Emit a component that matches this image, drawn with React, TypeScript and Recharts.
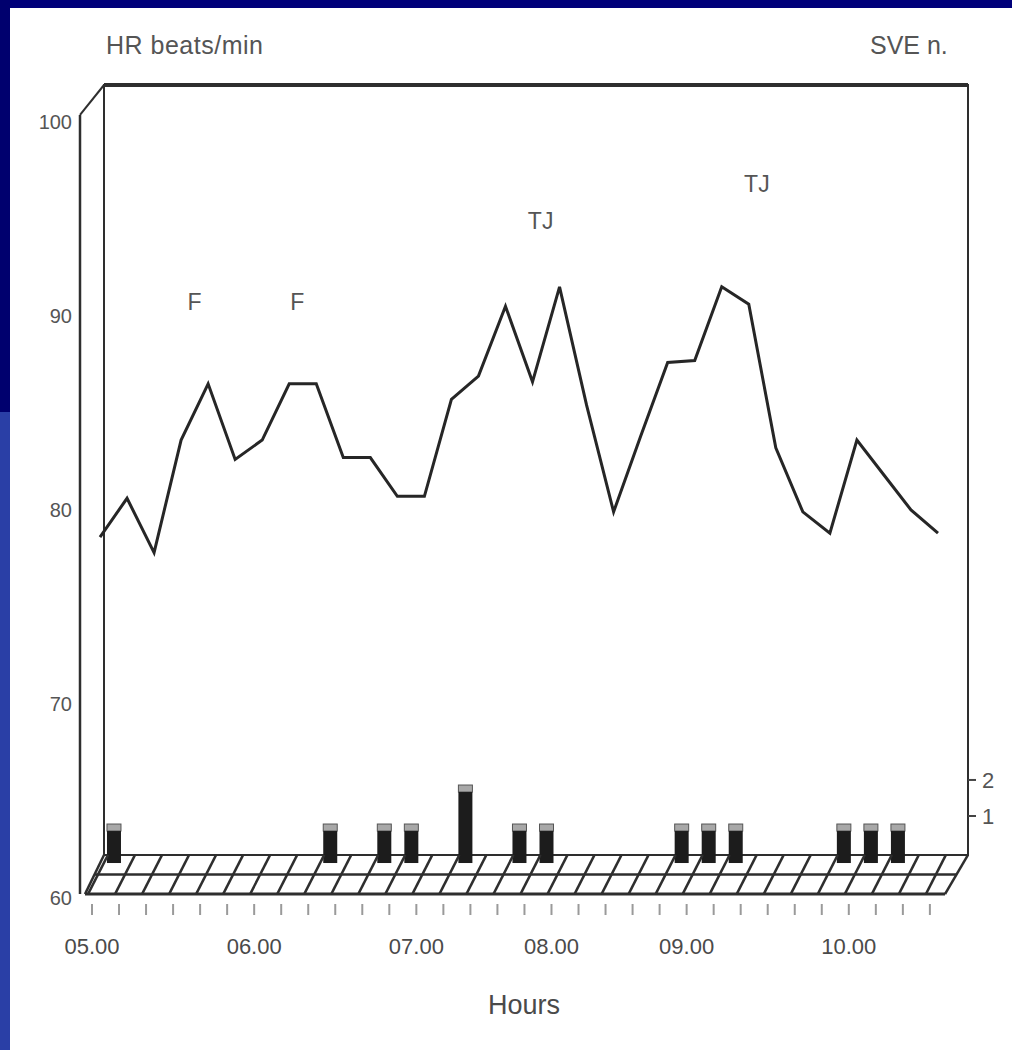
import { ComposedChart, Line, Bar, XAxis, YAxis, ReferenceLine, ReferenceArea, ReferenceDot } from 'recharts';

const FONT = '"Liberation Sans", Arial, sans-serif';

// one slot ~ every 10 min, labels only on the hours
const slotLabels = [
  '05.00', '', '', '', '', '',
  '06.00', '', '', '', '', '',
  '07.00', '', '', '', '',
  '08.00', '', '', '', '',
  '09.00', '', '', '', '', '',
  '10.00', '', '', '',
];

// HR beats/min at each slot
const hrValues = [
  78.6, 80.6, 77.8, 83.6, 86.5, 82.6, 83.6, 86.5, 86.5, 82.7, 82.7, 80.7, 80.7, 85.7, 86.9, 90.5,
  86.6, 91.5, 85.4, 79.9, 83.8, 87.6, 87.7, 91.5, 90.6, 83.2, 79.9, 78.8, 83.6, 81.8, 80.0, 78.8,
];

// SVE count in the interval after each slot
const sveCounts = [
  1, 0, 0, 0, 0, 0, 0, 0, 1, 0, 1, 1, 0, 2, 0, 1,
  1, 0, 0, 0, 0, 1, 1, 1, 0, 0, 0, 1, 1, 1, 0, 0,
];

const noteText = ['F', 'F', 'TJ', 'TJ'];
const noteSlot = [3.5, 7.3, 16.3, 24.3];
const noteHr = [90.7, 90.7, 94.9, 96.8];

const hrTicks = [60, 70, 80, 90, 100];
const sveTicks = [1, 2];

const data = hrValues.map((hr, i) => ({ i, hr, sve: sveCounts[i] }));

// 3D box, in front-plane units (slot index / bpm)
const FRONT_X = -0.444;
const BACK_X0 = 0.444;
const BACK_X1 = 32.41;
const BACK_TOP = 101.9;
const BACK_BOT = 62.22;
const FRONT_TOP = 100.36;
const FLOOR_FRONT = 60.2;
const FLOOR_MID = 61.21;
const DEPTH_X = 0.74;

const HourTick = (props: any) => {
  const { x, y, payload } = props;
  const label = slotLabels[payload.value] || '';
  return (
    <g>
      <line x1={x} y1={y + 6} x2={x} y2={y + 17} stroke="#9a9a9a" strokeWidth={2} />
      {label && (
        <text x={x} y={y + 56} textAnchor="middle" fontSize={22} fill="#4a4a4a" fontFamily={FONT}>
          {label}
        </text>
      )}
    </g>
  );
};

const SveBar = (props: any) => {
  const { x, y, width, height } = props;
  if (!height || height <= 0) return null;
  const cap = 7;
  return (
    <g>
      <rect x={x} y={y} width={width} height={cap} fill="#a8a8a8" stroke="#555" strokeWidth={1} />
      <rect x={x} y={y + cap} width={width} height={height - cap} fill="#1c1c1c" />
    </g>
  );
};

const seg = (x1: number, y1: number, x2: number, y2: number, w: number, key: string) => (
  <ReferenceLine
    key={key}
    xAxisId="front"
    yAxisId="hr"
    segment={[{ x: x1, y: y1 }, { x: x2, y: y2 }]}
    stroke="#2e2e2e"
    strokeWidth={w}
    ifOverflow="visible"
  />
);

export default function App() {
  return (
    <div style={{ position: 'absolute', left: 0, top: 0, width: 1012, height: 1050, background: '#fff', fontFamily: FONT }}>
      <div style={{ position: 'absolute', left: 0, top: 0, width: 1012, height: 8, background: '#00007a' }} />
      <div style={{ position: 'absolute', left: 0, top: 0, width: 10, height: 412, background: '#00006e' }} />
      <div style={{ position: 'absolute', left: 0, top: 412, width: 10, height: 638, background: '#2a3fa6' }} />
      <div style={{ position: 'absolute', left: 106, top: 31, fontSize: 25, color: '#555', letterSpacing: 0.5 }}>HR beats/min</div>
      <div style={{ position: 'absolute', left: 870, top: 31, fontSize: 25, color: '#555' }}>SVE n.</div>

      <ComposedChart width={1012} height={1050} data={data} margin={{ top: 85, right: 14, bottom: 32, left: 40 }}>
        <XAxis
          xAxisId="front"
          dataKey="i"
          type="number"
          scale="linear"
          allowDataOverflow
          domain={[-0.444, 32.41]}
          ticks={slotLabels.map((_, i) => i)}
          interval={0}
          axisLine={false}
          tickLine={false}
          tickSize={0}
          tickMargin={0}
          tick={<HourTick />}
          height={120}
          label={{ value: 'Hours', position: 'insideBottom', offset: 4, fontSize: 27, fill: '#4a4a4a', fontFamily: FONT }}
        />
        <XAxis xAxisId="back" dataKey="i" type="number" scale="linear" allowDataOverflow domain={[-0.74, 32.11]} height={0} hide />
        <XAxis xAxisId="bar" dataKey="i" type="number" scale="linear" allowDataOverflow domain={[-1.239, 31.61]} height={0} hide />
        <YAxis
          yAxisId="hr"
          type="number"
          scale="linear"
          allowDataOverflow
          domain={[60, 101.9]}
          ticks={hrTicks}
          width={40}
          axisLine={false}
          tickLine={false}
          tick={{ fill: '#555', fontSize: 20, fontFamily: FONT }}
        />
        <YAxis
          yAxisId="sve"
          orientation="right"
          type="number"
          scale="linear"
          allowDataOverflow
          domain={[-1.278, 21.3]}
          ticks={sveTicks}
          width={30}
          axisLine={false}
          tickSize={8}
          tickMargin={6}
          tickLine={{ stroke: '#444', strokeWidth: 2 }}
          tick={{ fill: '#555', fontSize: 22, fontFamily: FONT }}
        />
        <YAxis yAxisId="bar" type="number" scale="linear" allowDataOverflow domain={[-0.897, 19.95]} width={0} hide />

        {/* back wall */}
        <ReferenceArea
          xAxisId="front"
          yAxisId="hr"
          x1={BACK_X0}
          x2={BACK_X1}
          y1={BACK_BOT}
          y2={BACK_TOP}
          fill="none"
          stroke="#2e2e2e"
          strokeWidth={2}
          ifOverflow="visible"
        />
        {seg(BACK_X0, BACK_TOP, BACK_X1, BACK_TOP, 4, 'top')}
        {seg(FRONT_X, FLOOR_FRONT, FRONT_X, FRONT_TOP, 2.5, 'front')}
        {seg(FRONT_X, FRONT_TOP, BACK_X0, BACK_TOP, 2, 'slant')}

        {/* floor */}
        {seg(FRONT_X + 0.185, FLOOR_FRONT, 31.56, FLOOR_FRONT, 3, 'ff')}
        {seg(FRONT_X + 0.536, FLOOR_MID, 31.98, FLOOR_MID, 2.5, 'fm')}
        {seg(FRONT_X + 0.185, FLOOR_FRONT, BACK_X0, BACK_BOT, 2.5, 'fl')}
        {seg(31.56, FLOOR_FRONT, BACK_X1, BACK_BOT, 2.5, 'fr')}
        {slotLabels.map((_, k) =>
          seg(k - 0.148, FLOOR_FRONT, k - 0.148 + DEPTH_X, BACK_BOT, 2.5, `h${k}`)
        )}

        <Bar
          xAxisId="bar"
          yAxisId="bar"
          dataKey="sve"
          barSize={14}
          shape={<SveBar />}
          isAnimationActive={false}
        />
        <Line
          xAxisId="back"
          yAxisId="hr"
          type="linear"
          dataKey="hr"
          stroke="#262626"
          strokeWidth={3}
          dot={false}
          isAnimationActive={false}
        />
        {noteText.map((t, k) => (
          <ReferenceDot
            key={`n${k}`}
            xAxisId="back"
            yAxisId="hr"
            x={noteSlot[k]}
            y={noteHr[k]}
            r={1}
            fill="none"
            stroke="none"
            ifOverflow="visible"
            label={{ value: t, position: 'center', fontSize: 23, fill: '#555', fontFamily: FONT }}
          />
        ))}
      </ComposedChart>
    </div>
  );
}
